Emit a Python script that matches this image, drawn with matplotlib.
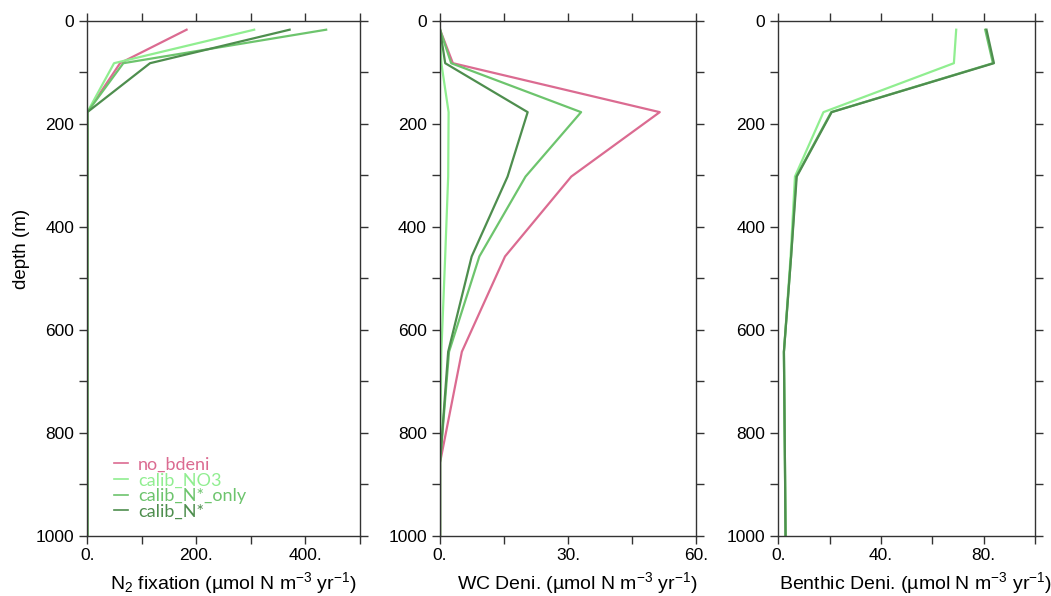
import matplotlib
matplotlib.use("Agg")
import matplotlib.pyplot as plt
from matplotlib.ticker import MultipleLocator, FuncFormatter

plt.rcParams['font.family'] = ['Liberation Sans', 'DejaVu Sans']
plt.rcParams['mathtext.fontset'] = 'custom'
plt.rcParams['mathtext.rm'] = 'Liberation Sans'
plt.rcParams['mathtext.it'] = 'Liberation Sans:italic'

# model layer depths (m)
depth = [17.5, 82.5, 177.5, 302.5, 457.5, 642.5, 857.5, 1102.5]

runs = ['no_bdeni', 'calib_NO3', 'calib_N*_only', 'calib_N*']
colors = ['#DB6B91', '#90EE90', '#6DC46D', '#4E8E4E']

# N2 fixation (umol N m-3 yr-1)
n2fix_no_bdeni = [182, 60, 0, 0, 0, 0, 0, 0]
n2fix_calib_no3 = [306, 49, 0, 0, 0, 0, 0, 0]
n2fix_calib_nstar_only = [438, 66, 0, 0, 0, 0, 0, 0]
n2fix_calib_nstar = [371, 115, 0, 0, 0, 0, 0, 0]

# water column denitrification
wcdeni_no_bdeni = [0, 3.0, 51.4, 30.7, 15.2, 5.1, 0, 0]
wcdeni_calib_no3 = [0, 0.3, 2.0, 1.9, 1.2, 0.3, 0, 0]
wcdeni_calib_nstar_only = [0, 2.6, 33.0, 20.0, 9.2, 2.1, 0, 0]
wcdeni_calib_nstar = [0, 1.2, 20.5, 15.8, 7.4, 1.9, 0, 0]

# benthic denitrification (none for no_bdeni)
bdeni_calib_no3 = [69.3, 68.4, 17.6, 6.5, 4.8, 2.2, 2.6, 3.1]
bdeni_calib_nstar_only = [80.6, 83.6, 20.6, 7.0, 5.0, 2.2, 2.6, 3.0]
bdeni_calib_nstar = [81.1, 84.0, 20.8, 7.2, 5.0, 2.2, 2.6, 3.0]

units = ' (\u00b5mol N m$^{-3}$ yr$^{-1}$)'

fig = plt.figure(figsize=(10.51, 5.96), dpi=100)
bottom, height = 0.1007, 0.8646
ax1 = fig.add_axes([0.0831, bottom, 0.2594, height])
ax2 = fig.add_axes([0.4187, bottom, 0.2440, height])
ax3 = fig.add_axes([0.7405, bottom, 0.2443, height])

panels = [
    (ax1, [n2fix_no_bdeni, n2fix_calib_no3, n2fix_calib_nstar_only, n2fix_calib_nstar],
     runs, colors, 500, 100, 200, 'N$_2$ fixation' + units),
    (ax2, [wcdeni_no_bdeni, wcdeni_calib_no3, wcdeni_calib_nstar_only, wcdeni_calib_nstar],
     runs, colors, 60, 15, 30, 'WC Deni.' + units),
    (ax3, [bdeni_calib_no3, bdeni_calib_nstar_only, bdeni_calib_nstar],
     runs[1:], colors[1:], 100, 20, 40, 'Benthic Deni.' + units),
]

dot_fmt = FuncFormatter(lambda v, p: '%d.' % round(v))

for ax, series, names, cols, xmax, xstep, xlab, xlabel in panels:
    for vals, name, c in zip(series, names, cols):
        ax.plot(vals, depth, color=c, lw=1.6, label=name)
    ax.set_xlim(0, xmax)
    ax.set_ylim(1000, 0)
    ax.xaxis.set_major_locator(MultipleLocator(xlab))
    ax.xaxis.set_minor_locator(MultipleLocator(xstep))
    ax.xaxis.set_major_formatter(dot_fmt)
    ax.yaxis.set_major_locator(MultipleLocator(200))
    ax.yaxis.set_minor_locator(MultipleLocator(100))
    ax.tick_params(which='both', direction='out', length=6, width=1,
                   top=True, right=True, color='#333333', labelsize=12.5)
    ax.tick_params(axis='x', pad=3)
    for s in ax.spines.values():
        s.set_color('#333333')
        s.set_linewidth(1)
    ax.set_xlabel(xlabel, fontsize=14)
    ax.xaxis.set_label_coords(0.535, -0.066)

ax1.set_ylabel('depth (m)', fontsize=13.5)
ax1.yaxis.set_label_coords(-0.21, 0.558)

leg = ax1.legend(loc='lower left', bbox_to_anchor=(0.04, 0.0), frameon=False,
                 handlelength=0.75, handletextpad=0.55, labelspacing=-0.02,
                 labelcolor='linecolor', prop={'family': 'Lato', 'size': 13})
for h in leg.legend_handles:
    h.set_linewidth(1.2)

fig.savefig('out.png', dpi=100)
